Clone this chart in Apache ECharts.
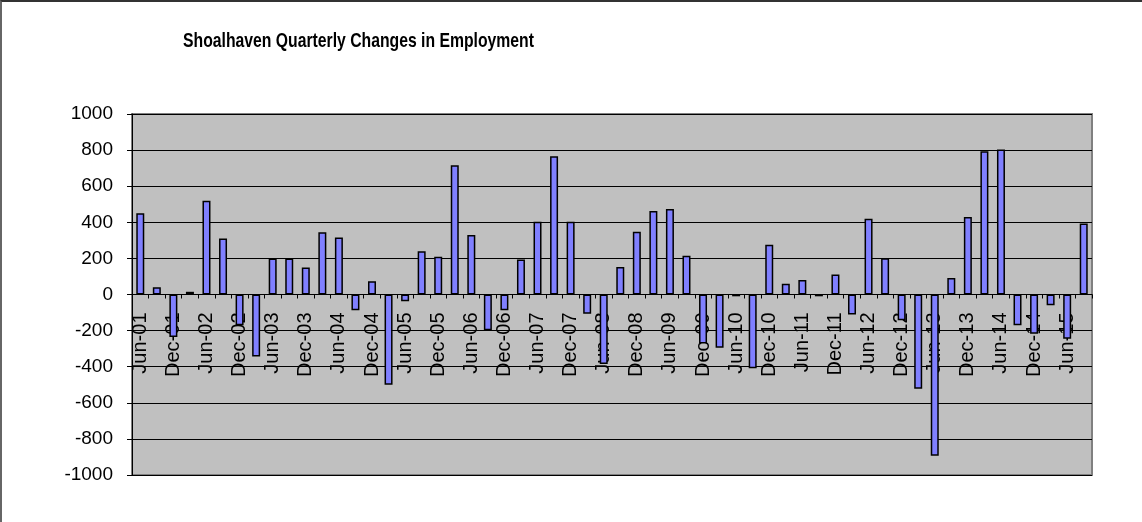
<!DOCTYPE html>
<html>
<head>
<meta charset="utf-8">
<script src="https://cdn.jsdelivr.net/npm/echarts@6/dist/echarts.min.js"></script>
<style>
html,body{margin:0;padding:0;background:#fff;}
#wrap{position:absolute;left:0;top:0;width:1142px;height:522px;box-sizing:border-box;border-top:2px solid #333;border-left:2px solid #666;}
#chart{position:absolute;left:0;top:0;width:1142px;height:522px;}
</style>
</head>
<body>
<div id="wrap"></div>
<div id="chart"></div>
<script>
const titleText = 'Shoalhaven Quarterly Changes in Employment';
const quarters = [
  'Jun-01','Sep-01','Dec-01',
  'Mar-02','Jun-02','Sep-02','Dec-02',
  'Mar-03','Jun-03','Sep-03','Dec-03',
  'Mar-04','Jun-04','Sep-04','Dec-04',
  'Mar-05','Jun-05','Sep-05','Dec-05',
  'Mar-06','Jun-06','Sep-06','Dec-06',
  'Mar-07','Jun-07','Sep-07','Dec-07',
  'Mar-08','Jun-08','Sep-08','Dec-08',
  'Mar-09','Jun-09','Sep-09','Dec-09',
  'Mar-10','Jun-10','Sep-10','Dec-10',
  'Mar-11','Jun-11','Sep-11','Dec-11',
  'Mar-12','Jun-12','Sep-12','Dec-12',
  'Mar-13','Jun-13','Sep-13','Dec-13',
  'Mar-14','Jun-14','Sep-14','Dec-14',
  'Mar-15','Jun-15','Sep-15'
];
const changes = [
  450, 40, -235,
  15, 520, 310, -170,
  -343, 200, 200, 150,
  345, 316, -87, 74,
  -500, -37, 240, 209,
  716, 329, -198, -87,
  194, 403, 766, 403,
  -107, -385, 153, 347,
  462, 473, 214, -271,
  -295, -10, -408, 275,
  59, 81, -10, 111,
  -111, 419, 201, -142,
  -522, -893, 92, 430,
  794, 803, -170, -218,
  -59, -245, 393
];
const yMin = -1000, yMax = 1000, yStep = 200;

const gridTop = 114, gridBottom = 47, H = 522;
const plotH = H - gridTop - gridBottom;
const zeroShift = plotH * (0 - yMin) / (yMax - yMin);

const chart = echarts.init(document.getElementById('chart'), null, {renderer:'canvas'});
chart.setOption({
  backgroundColor: 'transparent',
  animation: false,
  graphic: [{
    type: 'text',
    x: 183, y: 41,
    scaleX: 0.75, scaleY: 1,
    style: {
      text: titleText,
      font: 'bold 21px "Liberation Sans", Arial, sans-serif',
      fill: '#000',
      textVerticalAlign: 'middle',
      textAlign: 'left'
    }
  }],
  grid: {
    left: 132, right: 50, top: gridTop, bottom: gridBottom,
    containLabel: false, outerBoundsMode: 'none',
    show: true, backgroundColor: '#C0C0C0', borderColor: '#808080', borderWidth: 2
  },
  xAxis: {
    type: 'category',
    data: quarters,
    offset: -zeroShift,
    axisLine: {onZero: false, lineStyle: {color: '#000', width: 1}},
    axisTick: {show: true, interval: 0, alignWithLabel: false, length: 4, lineStyle: {color: '#000'}},
    axisLabel: {interval: 1, rotate: 90, fontSize: 20, margin: 18, color: '#000', fontFamily: '"Liberation Sans", Arial, sans-serif', hideOverlap: false},
    splitLine: {show: false}
  },
  yAxis: {
    type: 'value',
    min: yMin, max: yMax, interval: yStep,
    axisLine: {show: true, lineStyle: {color: '#000', width: 1}},
    axisTick: {show: true, length: 5, lineStyle: {color: '#000'}},
    axisLabel: {fontSize: 19, margin: 19, color: '#000', fontFamily: '"Liberation Sans", Arial, sans-serif', formatter: function(v){ return String(v); }},
    splitLine: {show: true, lineStyle: {color: '#000', width: 1}}
  },
  series: [{
    type: 'bar',
    data: changes,
    barWidth: 8,
    z: 1,
    itemStyle: {color: '#8080FF', borderColor: '#000', borderWidth: 1.5}
  }]
});
</script>
</body>
</html>
